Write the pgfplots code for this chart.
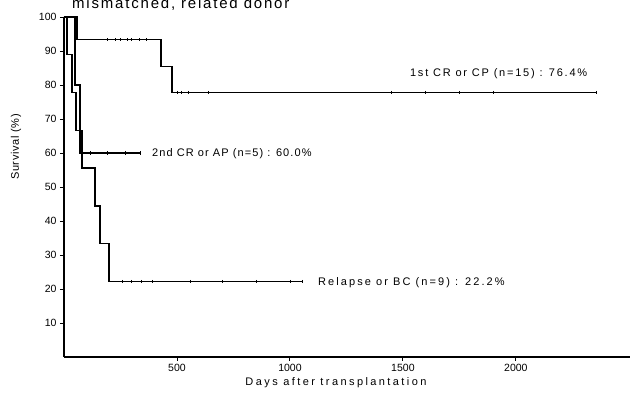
\documentclass[border=0pt]{standalone}
\usepackage{fontspec}
\setmainfont{Liberation Sans}
\newfontfamily\lsA{Liberation Sans}[LetterSpace=16]
\newfontfamily\lsC{Liberation Sans}[LetterSpace=10]
\newfontfamily\lsR{Liberation Sans}[LetterSpace=19]
\newfontfamily\lsX{Liberation Sans}[LetterSpace=22]
\newfontfamily\lsY{Liberation Sans}[LetterSpace=6]
\newfontfamily\lsT{Liberation Sans}[LetterSpace=12]
\usepackage{pgfplots}
\pgfplotsset{compat=1.18}
\begin{document}
\begin{tikzpicture}
\begin{axis}[
  at={(0,0)}, anchor=south west,
  scale only axis, width=566pt, height=340pt,
  xmin=0, xmax=2505, ymin=0, ymax=100,
  axis lines*=left,
  axis line style={line width=1.3pt},
  tick align=outside, major tick length=4pt,
  tick style={line width=0.9pt, black},
  xtick={500,1000,1500,2000},
  ytick={10,20,30,40,50,60,70,80,90,100},
  /pgf/number format/assume math mode=true,
  /pgf/number format/1000 sep={},
  ticklabel style={font=\fontsize{10.5}{12}\selectfont},
  clip=false,
]
% 1st CR or CP
\addplot[black, line width=1.3pt] coordinates {
 (0,100) (58,100) (58,93.3) (429,93.3) (429,85.5) (478,85.5) (478,77.8) (2358,77.8)};
% 2nd CR or AP
\addplot[black, line width=1.3pt] coordinates {
 (0,100) (49,100) (49,80) (71,80) (71,60) (336,60)};
% Relapse or BC
\addplot[black, line width=1.3pt] coordinates {
 (0,100) (13,100) (13,88.9) (35,88.9) (35,77.8) (53,77.8) (53,66.7) (80,66.7)
 (80,55.6) (137,55.6) (137,44.4) (159,44.4) (159,33.3) (199,33.3) (199,22.2) (1053,22.2)};
% censoring marks
\addplot[only marks, mark=|, mark size=1.6pt, black, line width=0.6pt] coordinates {
 (190,93.3) (225,93.3) (250,93.3) (280,93.3) (300,93.3) (335,93.3) (365,93.3)
 (500,77.8) (520,77.8) (550,77.8) (637,77.8) (1450,77.8) (1600,77.8) (1750,77.8) (1900,77.8) (2358,77.8)
 (115,60) (190,60) (270,60) (336,60)
 (260,22.2) (300,22.2) (340,22.2) (390,22.2) (560,22.2) (700,22.2) (850,22.2) (1000,22.2) (1053,22.2)};
\node[anchor=base west, font=\lsA\fontsize{11}{13}\selectfont, inner sep=0pt] at (axis cs:1531,82.4) {1st CR or CP (n=15) : 76.4\%};
\node[anchor=base west, font=\lsC\fontsize{11}{13}\selectfont, inner sep=0pt] at (axis cs:389,59.1) {2nd CR or AP (n=5) : 60.0\%};
\node[anchor=base west, font=\lsR\fontsize{11}{13}\selectfont, inner sep=0pt] at (axis cs:1124,20.9) {Relapse or BC (n=9) : 22.2\%};
\end{axis}
\node[anchor=base, font=\lsX\fontsize{11}{13}\selectfont, inner sep=0pt] at (272pt,-29pt) {Days after transplantation};
\node[rotate=90, font=\lsY\fontsize{11}{12}\selectfont, inner sep=0pt] at (-48pt,210pt) {Survival (\%)};
\node[anchor=base west, font=\lsT\fontsize{15}{17}\selectfont, inner sep=0pt] at (8pt,348pt) {mismatched, related donor};
\pgfresetboundingbox
\useasboundingbox (-64pt,-39pt) rectangle (566pt,357pt);
\end{tikzpicture}
\end{document}
